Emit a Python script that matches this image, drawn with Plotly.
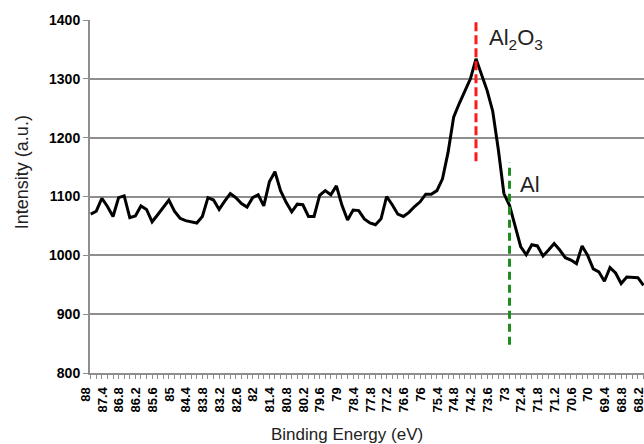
import plotly.graph_objects as go

# Binding energy categories (eV), 0.2 eV steps
binding_energy = [
    88.0, 87.8, 87.6, 87.4, 87.2, 87.0, 86.8, 86.6, 86.4, 86.2,
    86.0, 85.8, 85.6, 85.4, 85.2, 85.0, 84.8, 84.6, 84.4, 84.2,
    84.0, 83.8, 83.6, 83.4, 83.2, 83.0, 82.8, 82.6, 82.4, 82.2,
    82.0, 81.8, 81.6, 81.4, 81.2, 81.0, 80.8, 80.6, 80.4, 80.2,
    80.0, 79.8, 79.6, 79.4, 79.2, 79.0, 78.8, 78.6, 78.4, 78.2,
    78.0, 77.8, 77.6, 77.4, 77.2, 77.0, 76.8, 76.6, 76.4, 76.2,
    76.0, 75.8, 75.6, 75.4, 75.2, 75.0, 74.8, 74.6, 74.4, 74.2,
    74.0, 73.8, 73.6, 73.4, 73.2, 73.0, 72.8, 72.6, 72.4, 72.2,
    72.0, 71.8, 71.6, 71.4, 71.2, 71.0, 70.8, 70.6, 70.4, 70.2,
    70.0, 69.8, 69.6, 69.4, 69.2, 69.0, 68.8, 68.6, 68.4, 68.2,
]

# Intensity (a.u.)
intensity = [
    1070, 1075, 1097, 1083, 1066, 1098, 1101, 1064, 1067, 1084,
    1078, 1057, 1069, 1082, 1094, 1075, 1063, 1059, 1057, 1055,
    1066, 1098, 1094, 1078, 1092, 1105, 1098, 1088, 1082, 1098,
    1103, 1084, 1125, 1142, 1110, 1090, 1074, 1087, 1086, 1066,
    1066, 1102, 1110, 1103, 1118, 1085, 1060, 1077, 1076, 1062,
    1055, 1052, 1062, 1100, 1086, 1070, 1066, 1073, 1083, 1091,
    1104, 1104, 1110, 1130, 1175, 1235, 1258, 1278, 1300, 1334,
    1305, 1280, 1245, 1180, 1105, 1085, 1050, 1015, 1001, 1018,
    1016, 999, 1009, 1020, 1009, 996, 992, 986, 1016, 1000,
    977, 972, 956, 979, 970, 952, 963, 963, 962, 949,
]

tick_labels = [
    "88", "87.4", "86.8", "86.2", "85.6", "85", "84.4", "83.8", "83.2", "82.6",
    "82", "81.4", "80.8", "80.2", "79.6", "79", "78.4", "77.8", "77.2", "76.6",
    "76", "75.4", "74.8", "74.2", "73.6", "73", "72.4", "71.8", "71.2", "70.6",
    "70", "69.4", "68.8", "68.2",
]

al2o3_energy = 74.2
al_energy = 73.0
al2o3_line_y = [1160, 1400]
al_line_y = [848, 1158]

label_map = {round(float(t), 1): t for t in tick_labels}
tick_text = [label_map.get(round(e, 1), "") for e in binding_energy]

GRID = "#8e8e8e"
FONT = "Liberation Sans, Arial, sans-serif"

fig = go.Figure()
fig.add_trace(go.Scatter(
    x=binding_energy, y=intensity, mode="lines",
    line=dict(color="black", width=3), showlegend=False,
))

fig.add_shape(type="line", xref="x", yref="y",
              x0=al2o3_energy, x1=al2o3_energy,
              y0=al2o3_line_y[0], y1=al2o3_line_y[1],
              line=dict(color="#ff1a1a", width=3, dash="9px,4px"))
fig.add_shape(type="line", xref="x", yref="y",
              x0=al_energy, x1=al_energy,
              y0=al_line_y[0], y1=al_line_y[1],
              line=dict(color="#1e8c1e", width=3, dash="8px,5px"))

fig.add_annotation(text="Al<sub>2</sub>O<sub>3</sub>", xref="paper", yref="paper",
                   x=0.7166, y=0.945, xanchor="left", yanchor="middle",
                   showarrow=False, font=dict(family=FONT, size=22, color="#222"))
fig.add_annotation(text="Al", xref="paper", yref="paper",
                   x=0.7726, y=0.5326, xanchor="left", yanchor="middle",
                   showarrow=False, font=dict(family=FONT, size=22, color="#222"))

fig.add_annotation(text="Intensity (a.u.)", xref="paper", yref="paper",
                   x=-0.1227, y=0.569, xanchor="center", yanchor="middle",
                   textangle=-90, showarrow=False,
                   font=dict(family=FONT, size=18, color="#222"))
fig.add_annotation(text="Binding Energy (eV)", xref="paper", yref="paper",
                   x=0.4648, y=-0.1756, xanchor="center", yanchor="middle",
                   showarrow=False, font=dict(family=FONT, size=17, color="#222"))

fig.update_layout(
    width=644, height=444,
    margin=dict(l=90, r=0, t=20, b=71),
    paper_bgcolor="white", plot_bgcolor="white",
    xaxis=dict(
        range=[88.025, 68.182], automargin=False,
        tickmode="array", tickvals=binding_energy, ticktext=tick_text,
        tickangle=-90, ticks="outside", ticklen=4, tickwidth=1, tickcolor=GRID,
        ticklabeloverflow="allow", ticklabelshift=5, ticklabelstandoff=3,
        showgrid=False, zeroline=False,
        showline=True, linecolor=GRID, linewidth=2,
        tickfont=dict(family=FONT, size=13, color="black", weight="bold"),
    ),
    yaxis=dict(
        range=[800, 1400], tickmode="linear", tick0=800, dtick=100,
        automargin=False,
        ticks="outside", ticklen=5, tickwidth=1, tickcolor=GRID,
        showgrid=True, gridcolor=GRID, gridwidth=2, zeroline=False,
        showline=True, linecolor=GRID, linewidth=2,
        tickfont=dict(family=FONT, size=14, color="black", weight="bold"),
    ),
)

fig.write_html(
    "out.html",
    config={"displayModeBar": False},
    post_script="document.body.style.margin='0';document.body.style.overflow='hidden';",
)
